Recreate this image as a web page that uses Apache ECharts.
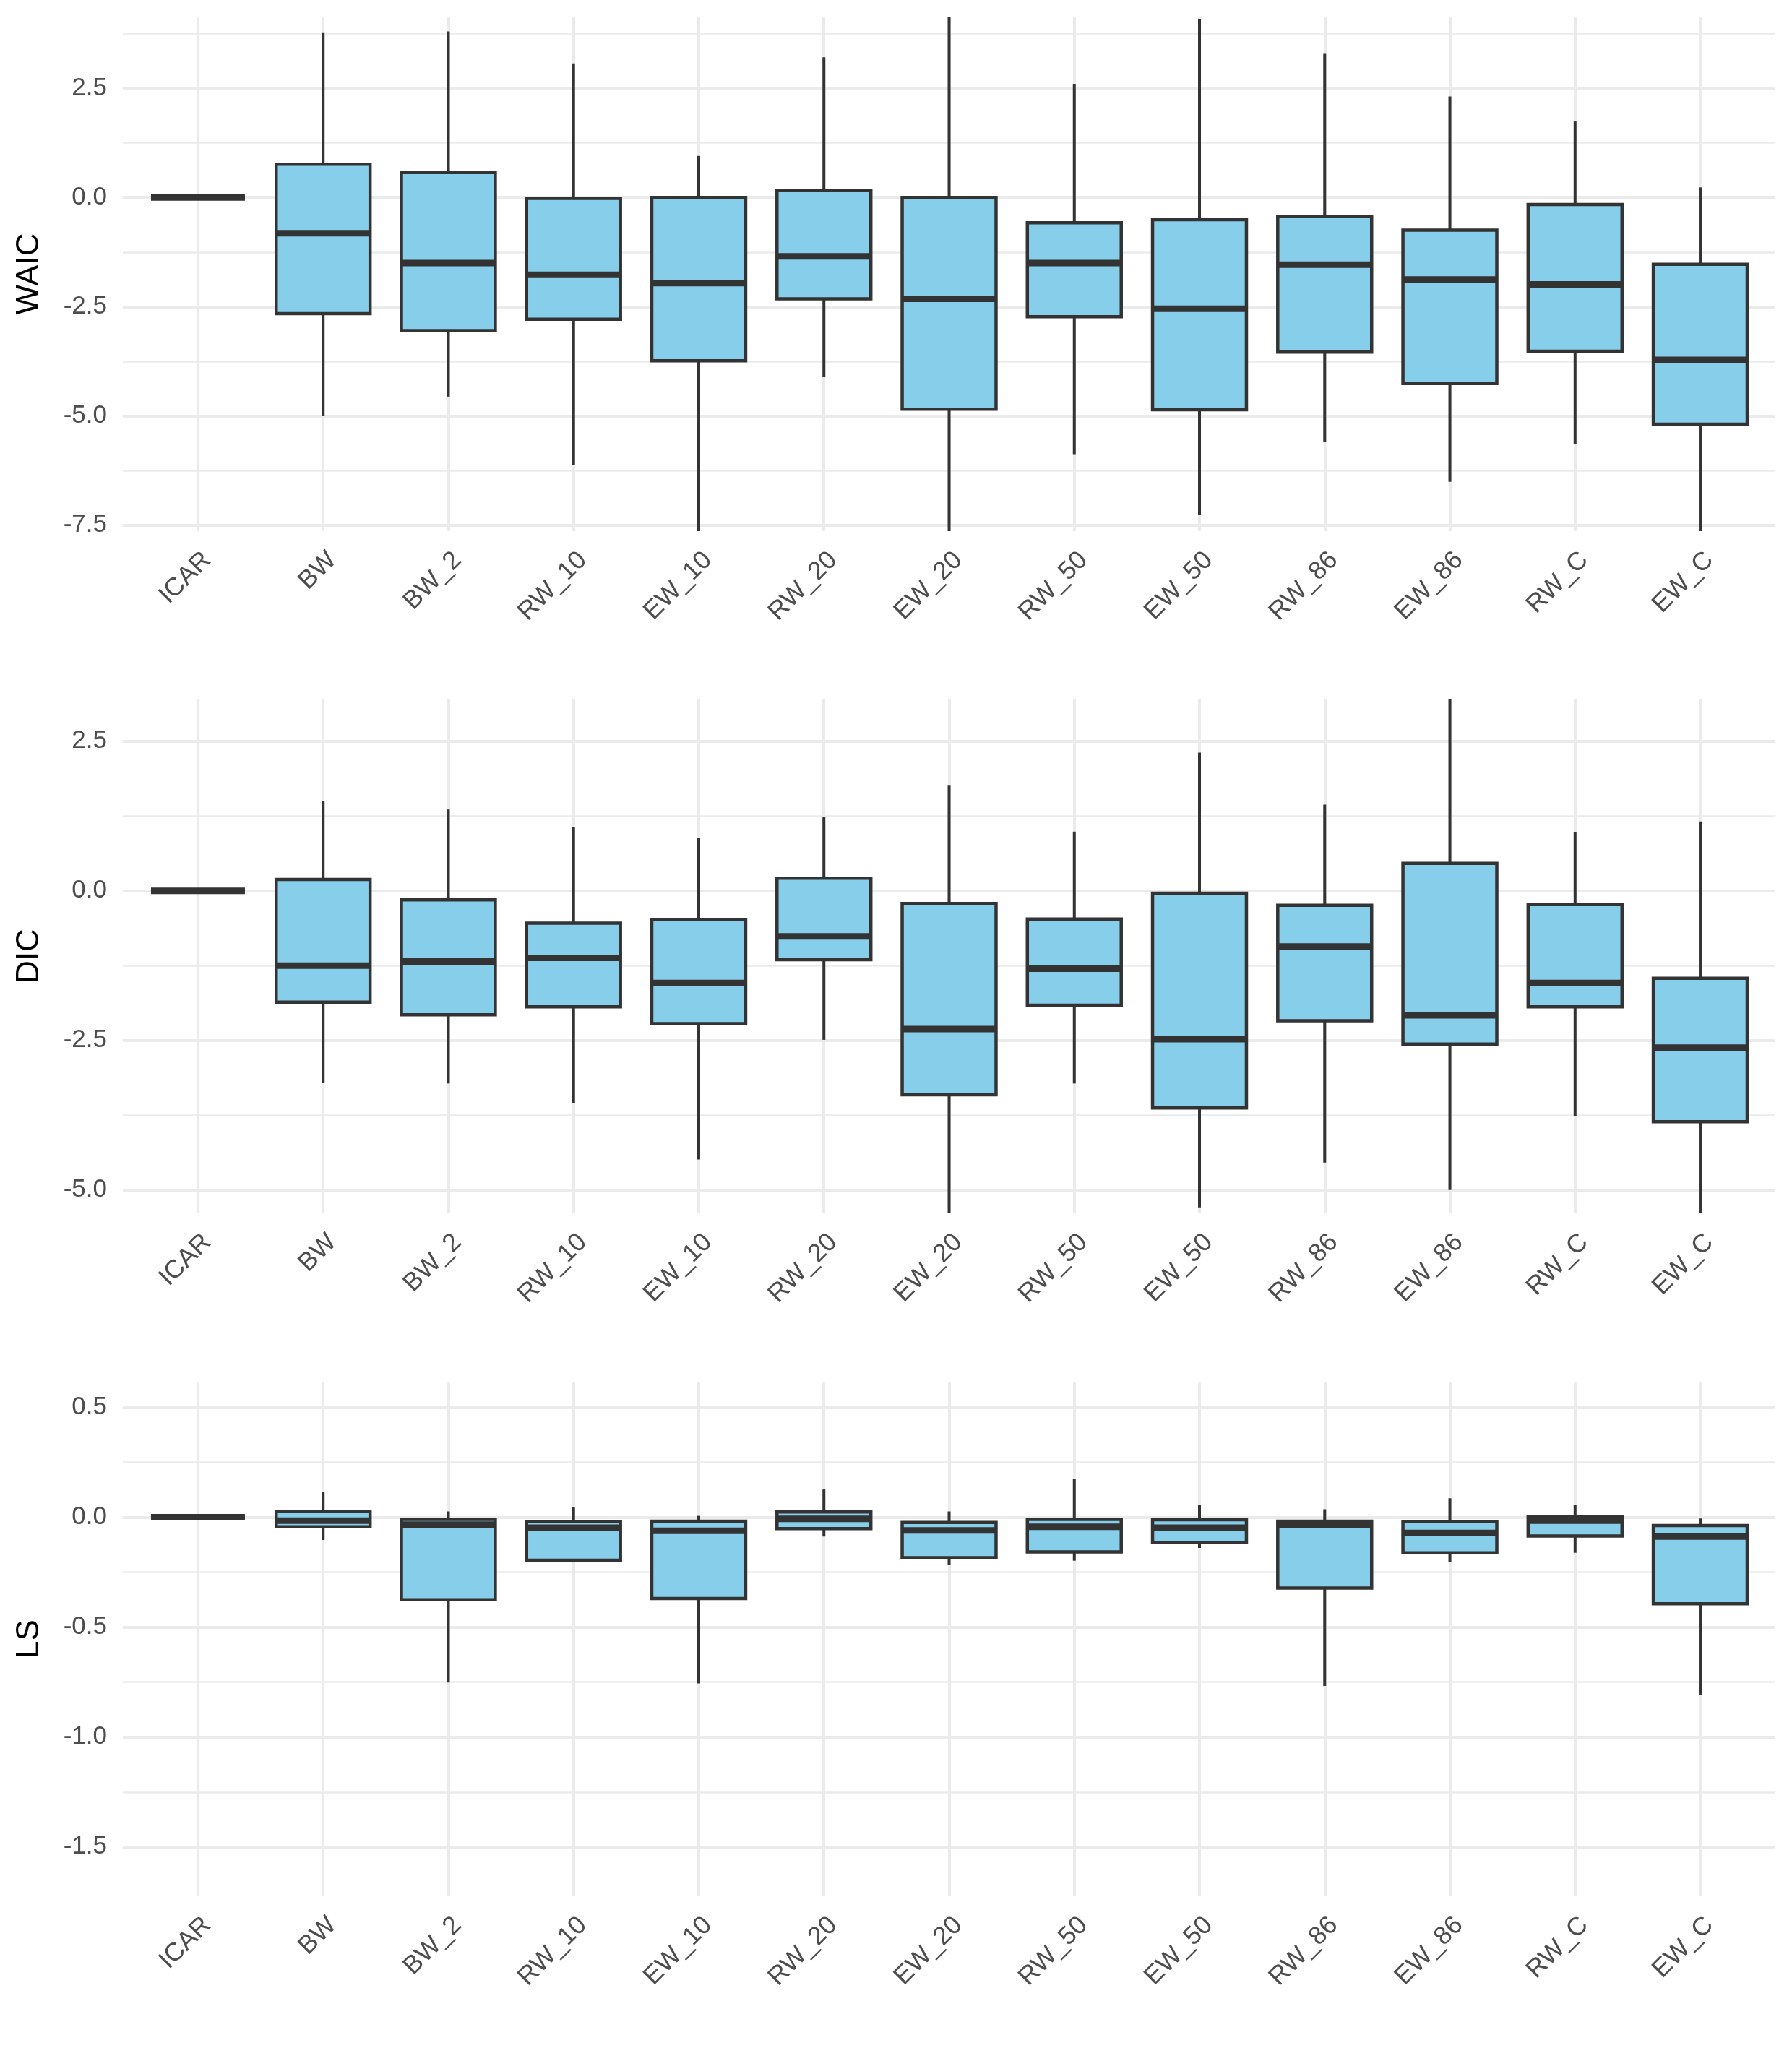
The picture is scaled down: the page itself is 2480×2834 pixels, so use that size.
<!DOCTYPE html>
<html>
<head>
<meta charset="utf-8">
<script src="https://cdn.jsdelivr.net/npm/echarts@6/dist/echarts.min.js"></script>
<style>
  html, body { margin: 0; padding: 0; background: #ffffff; }
  #chart { width: 2480px; height: 2834px; }
</style>
</head>
<body>
<div id="chart"></div>
<script>
// ---- categories ----
const categories = ['ICAR','BW','BW_2','RW_10','EW_10','RW_20','EW_20','RW_50','EW_50','RW_86','EW_86','RW_C','EW_C'];

// ---- box statistics per category: [lower whisker, Q1, median, Q3, upper whisker] ----
const waicStats = [
  [0, 0, 0, 0, 0],
  [-5.00, -2.66, -0.82, 0.76, 3.78],
  [-4.56, -3.05, -1.50, 0.57, 3.80],
  [-6.12, -2.79, -1.77, -0.02, 3.07],
  [-7.70, -3.74, -1.96, 0.00, 0.95],
  [-4.10, -2.32, -1.35, 0.16, 3.21],
  [-7.70, -4.85, -2.32, 0.00, 4.20],
  [-5.88, -2.73, -1.50, -0.58, 2.60],
  [-7.27, -4.86, -2.55, -0.51, 4.09],
  [-5.59, -3.54, -1.54, -0.43, 3.29],
  [-6.51, -4.26, -1.88, -0.75, 2.31],
  [-5.64, -3.52, -1.99, -0.16, 1.74],
  [-7.70, -5.19, -3.72, -1.53, 0.23]
];
const dicStats = [
  [0, 0, 0, 0, 0],
  [-3.21, -1.86, -1.25, 0.19, 1.50],
  [-3.22, -2.07, -1.18, -0.15, 1.36],
  [-3.55, -1.94, -1.12, -0.54, 1.07],
  [-4.49, -2.22, -1.54, -0.48, 0.89],
  [-2.49, -1.15, -0.76, 0.21, 1.24],
  [-5.45, -3.41, -2.31, -0.21, 1.77],
  [-3.22, -1.91, -1.30, -0.47, 0.99],
  [-5.29, -3.63, -2.48, -0.04, 2.31],
  [-4.54, -2.17, -0.93, -0.24, 1.44],
  [-5.00, -2.56, -2.08, 0.46, 3.25],
  [-3.77, -1.94, -1.54, -0.23, 0.98],
  [-5.45, -3.86, -2.62, -1.46, 1.16]
];
const lsStats = [
  [0, 0, 0, 0, 0],
  [-0.104, -0.044, -0.016, 0.026, 0.116],
  [-0.752, -0.376, -0.034, -0.010, 0.026],
  [-0.196, -0.196, -0.048, -0.020, 0.044],
  [-0.756, -0.370, -0.062, -0.018, 0.006],
  [-0.088, -0.052, -0.008, 0.024, 0.126],
  [-0.216, -0.184, -0.060, -0.024, 0.026],
  [-0.198, -0.158, -0.044, -0.010, 0.174],
  [-0.140, -0.116, -0.048, -0.012, 0.054],
  [-0.768, -0.322, -0.036, -0.018, 0.036],
  [-0.204, -0.162, -0.072, -0.020, 0.086],
  [-0.162, -0.086, -0.016, 0.004, 0.054],
  [-0.810, -0.394, -0.088, -0.038, -0.006]
];

// ---- tick labels ----
const waicTicks = [-7.5, -5.0, -2.5, 0.0, 2.5];
const waicMinor = [-6.25, -3.75, -1.25, 1.25, 3.75];
const dicTicks = [-5.0, -2.5, 0.0, 2.5];
const dicMinor = [-3.75, -1.25, 1.25];
const lsTicks = [-1.5, -1.0, -0.5, 0.0, 0.5];
const lsMinor = [-1.25, -0.75, -0.25, 0.25];
const yRanges = { WAIC: [-7.64, 4.14], DIC: [-5.39, 3.21], LS: [-1.724, 0.616] };

const FONT = '"Liberation Sans", Arial, Helvetica, sans-serif';
const GRID_COLOR = '#ebebeb';
const catIdx = categories.map((c, i) => i);

const panels = [
  { name: 'WAIC', stats: waicStats, ticks: waicTicks, minor: waicMinor, top: 23 },
  { name: 'DIC', stats: dicStats, ticks: dicTicks, minor: dicMinor, top: 967 },
  { name: 'LS', stats: lsStats, ticks: lsTicks, minor: lsMinor, top: 1912 }
];

function renderBox(params, api) {
  const x = api.value(0);
  const lo = api.coord([x, api.value(1)]);
  const q1 = api.coord([x, api.value(2)]);
  const md = api.coord([x, api.value(3)]);
  const q3 = api.coord([x, api.value(4)]);
  const hi = api.coord([x, api.value(5)]);
  const bw = api.size([1, 0])[0] * 0.75;
  const cx = lo[0];
  const stroke = '#333333';
  return {
    type: 'group',
    children: [
      { type: 'line', shape: { x1: cx, y1: hi[1], x2: cx, y2: q3[1] }, style: { stroke: stroke, lineWidth: 4 } },
      { type: 'line', shape: { x1: cx, y1: q1[1], x2: cx, y2: lo[1] }, style: { stroke: stroke, lineWidth: 4 } },
      { type: 'rect', shape: { x: cx - bw / 2, y: q3[1], width: bw, height: q1[1] - q3[1] },
        style: { fill: '#87CEEB', stroke: stroke, lineWidth: 4.5 } },
      { type: 'line', shape: { x1: cx - bw / 2, y1: md[1], x2: cx + bw / 2, y2: md[1] },
        style: { stroke: stroke, lineWidth: 9 } }
    ]
  };
}

const grids = [], xAxes = [], yAxes = [], series = [];
panels.forEach((p, k) => {
  grids.push({ left: 170, right: 23, top: p.top, height: 712 });
  xAxes.push({
    type: 'value', gridIndex: k, min: -0.6, max: 12.6,
    axisLine: { show: false },
    axisTick: { show: false, customValues: catIdx },
    axisLabel: {
      customValues: catIdx, rotate: 45, align: 'right', verticalAlign: 'top', margin: 22,
      fontSize: 35.5, color: '#4d4d4d', fontFamily: FONT,
      formatter: v => categories[Math.round(v)]
    },
    splitLine: { show: true, lineStyle: { color: GRID_COLOR, width: 4 } }
  });
  const [ymin, ymax] = yRanges[p.name];
  // major y axis
  yAxes.push({
    type: 'value', gridIndex: k, min: ymin, max: ymax,
    name: p.name, nameLocation: 'middle', nameRotate: 90, nameGap: 107,
    nameTextStyle: { fontSize: 44, color: '#000000', fontFamily: FONT },
    axisLine: { show: false },
    axisTick: { show: false, customValues: p.ticks },
    axisLabel: { customValues: p.ticks, margin: 22, fontSize: 35, color: '#4d4d4d', fontFamily: FONT,
      formatter: v => Number(v).toFixed(1) },
    splitLine: { show: true, lineStyle: { color: GRID_COLOR, width: 4 } }
  });
  // minor grid y axis
  yAxes.push({
    type: 'value', gridIndex: k, min: ymin, max: ymax, position: 'left',
    axisLine: { show: false },
    axisTick: { show: false, customValues: p.minor },
    axisLabel: { show: false, customValues: p.minor },
    splitLine: { show: true, lineStyle: { color: GRID_COLOR, width: 2.5 } }
  });
  series.push({
    type: 'custom', name: p.name, xAxisIndex: k, yAxisIndex: 2 * k, clip: true,
    renderItem: renderBox,
    encode: { x: 0, y: [1, 2, 3, 4, 5] },
    data: p.stats.map((s, i) => [i].concat(s))
  });
});

const chart = echarts.init(document.getElementById('chart'), null, { renderer: 'canvas' });
chart.setOption({
  animation: false,
  backgroundColor: '#ffffff',
  grid: grids,
  xAxis: xAxes,
  yAxis: yAxes,
  series: series
});
</script>
</body>
</html>
